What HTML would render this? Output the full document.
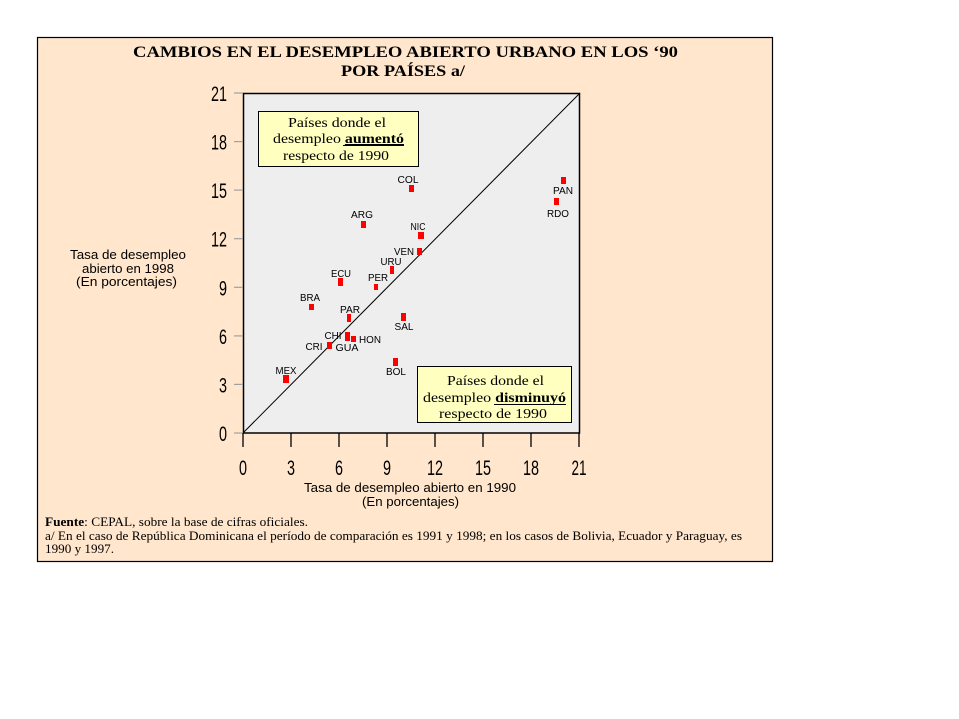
<!DOCTYPE html>
<html><head><meta charset="utf-8"><style>
html,body{margin:0;padding:0;background:#fff;}
svg{display:block;}
</style></head><body>
<svg width="959" height="719" viewBox="0 0 959 719" xmlns="http://www.w3.org/2000/svg">
<rect x="0" y="0" width="959" height="719" fill="#ffffff"/>
<rect x="37.5" y="37.5" width="735" height="524" fill="#FFE6CC" stroke="#000" stroke-width="1.2"/>
<!-- title -->
<g font-family="'Liberation Serif', serif" font-weight="bold" font-size="16" fill="#000">
<text x="133" y="57" textLength="545" lengthAdjust="spacingAndGlyphs">CAMBIOS EN EL DESEMPLEO ABIERTO URBANO EN LOS ‘90</text>
<text x="341" y="76" textLength="124" lengthAdjust="spacingAndGlyphs">POR PAÍSES a/</text>
</g>
<!-- plot area -->
<rect x="243.5" y="93.5" width="336" height="339.5" fill="#EEEEEE" stroke="#000" stroke-width="1.5"/>
<line x1="243" y1="433" x2="580" y2="93" stroke="#000" stroke-width="1"/>
<!-- y ticks -->
<g stroke="#A0A0A0" stroke-width="1.2">
<line x1="234" y1="93" x2="243" y2="93"/>
<line x1="234" y1="141.6" x2="243" y2="141.6"/>
<line x1="234" y1="190.1" x2="243" y2="190.1"/>
<line x1="234" y1="238.7" x2="243" y2="238.7"/>
<line x1="234" y1="287.3" x2="243" y2="287.3"/>
<line x1="234" y1="335.9" x2="243" y2="335.9"/>
<line x1="234" y1="384.4" x2="243" y2="384.4"/>
<line x1="234" y1="433" x2="243" y2="433"/>
</g>
<!-- x ticks -->
<g stroke="#000" stroke-width="1.3">
<line x1="243" y1="433" x2="243" y2="447"/>
<line x1="291" y1="433" x2="291" y2="447"/>
<line x1="339" y1="433" x2="339" y2="447"/>
<line x1="387" y1="433" x2="387" y2="447"/>
<line x1="435" y1="433" x2="435" y2="447"/>
<line x1="483" y1="433" x2="483" y2="447"/>
<line x1="531" y1="433" x2="531" y2="447"/>
<line x1="579" y1="433" x2="579" y2="447"/>
</g>
<!-- y tick labels -->
<g font-family="'Liberation Sans', sans-serif" font-size="21" fill="#000" text-anchor="end">
<text x="227" y="101" textLength="16" lengthAdjust="spacingAndGlyphs">21</text>
<text x="227" y="149.6" textLength="16" lengthAdjust="spacingAndGlyphs">18</text>
<text x="227" y="198.1" textLength="16" lengthAdjust="spacingAndGlyphs">15</text>
<text x="227" y="246.7" textLength="16" lengthAdjust="spacingAndGlyphs">12</text>
<text x="227" y="295.3" textLength="8" lengthAdjust="spacingAndGlyphs">9</text>
<text x="227" y="343.9" textLength="8" lengthAdjust="spacingAndGlyphs">6</text>
<text x="227" y="392.4" textLength="8" lengthAdjust="spacingAndGlyphs">3</text>
<text x="227" y="441" textLength="8" lengthAdjust="spacingAndGlyphs">0</text>
</g>
<!-- x tick labels -->
<g font-family="'Liberation Sans', sans-serif" font-size="21" fill="#000" text-anchor="middle">
<text x="243" y="475" textLength="8" lengthAdjust="spacingAndGlyphs">0</text>
<text x="291" y="475" textLength="8" lengthAdjust="spacingAndGlyphs">3</text>
<text x="339" y="475" textLength="8" lengthAdjust="spacingAndGlyphs">6</text>
<text x="387" y="475" textLength="8" lengthAdjust="spacingAndGlyphs">9</text>
<text x="435" y="475" textLength="16" lengthAdjust="spacingAndGlyphs">12</text>
<text x="483" y="475" textLength="16" lengthAdjust="spacingAndGlyphs">15</text>
<text x="531" y="475" textLength="16" lengthAdjust="spacingAndGlyphs">18</text>
<text x="579" y="475" textLength="15" lengthAdjust="spacingAndGlyphs">21</text>
</g>
<!-- axis titles -->
<g font-family="'Liberation Sans', sans-serif" font-size="12.5" fill="#000">
<text x="70" y="259" textLength="116" lengthAdjust="spacingAndGlyphs">Tasa de desempleo</text>
<text x="82" y="273" textLength="92" lengthAdjust="spacingAndGlyphs">abierto en 1998</text>
<text x="76" y="286" textLength="101" lengthAdjust="spacingAndGlyphs">(En porcentajes)</text>
<text x="304" y="492" textLength="212" lengthAdjust="spacingAndGlyphs">Tasa de desempleo abierto en 1990</text>
<text x="362" y="506" textLength="97" lengthAdjust="spacingAndGlyphs">(En porcentajes)</text>
</g>
<!-- boxes -->
<rect x="258.5" y="111.5" width="160" height="55" fill="#FFFFC0" stroke="#000" stroke-width="1"/>
<g font-family="'Liberation Serif', serif" font-size="14" fill="#000">
<text x="288" y="127" textLength="98" lengthAdjust="spacingAndGlyphs">Países donde el</text>
<text x="273" y="143" textLength="131" lengthAdjust="spacingAndGlyphs">desempleo <tspan font-weight="bold" text-decoration="underline">aumentó</tspan></text>
<text x="283" y="160" textLength="106" lengthAdjust="spacingAndGlyphs">respecto de 1990</text>
</g>
<line x1="343" y1="145.5" x2="404" y2="145.5" stroke="#000" stroke-width="1"/>
<rect x="417.5" y="366.5" width="154" height="56" fill="#FFFFC0" stroke="#000" stroke-width="1"/>
<g font-family="'Liberation Serif', serif" font-size="14" fill="#000">
<text x="447" y="385" textLength="97" lengthAdjust="spacingAndGlyphs">Países donde el</text>
<text x="423" y="402" textLength="143" lengthAdjust="spacingAndGlyphs">desempleo <tspan font-weight="bold">disminuyó</tspan></text>
<text x="439" y="418" textLength="108" lengthAdjust="spacingAndGlyphs">respecto de 1990</text>
</g>
<line x1="494" y1="404.5" x2="566" y2="404.5" stroke="#000" stroke-width="1"/>
<!-- data points -->
<g fill="#FF0000">
<rect x="361" y="221" width="5" height="7"/>
<rect x="418" y="232" width="6" height="7"/>
<rect x="417" y="248" width="5" height="7"/>
<rect x="390" y="266" width="4" height="8"/>
<rect x="338" y="278" width="5" height="8"/>
<rect x="374" y="284" width="4" height="6"/>
<rect x="309" y="304" width="5" height="6"/>
<rect x="347" y="314" width="4" height="8"/>
<rect x="401" y="313" width="5" height="8"/>
<rect x="345" y="332" width="5" height="9"/>
<rect x="351" y="336" width="5" height="6"/>
<rect x="327" y="342" width="5" height="7"/>
<rect x="393" y="358" width="5" height="8"/>
<rect x="283" y="375" width="6" height="8"/>
<rect x="409" y="185" width="5" height="7"/>
<rect x="561" y="177" width="5" height="7"/>
<rect x="554" y="198" width="5" height="7"/>
</g>
<g font-family="'Liberation Sans', sans-serif" font-size="10" fill="#000" text-anchor="middle">
<text x="362" y="218" textLength="22" lengthAdjust="spacingAndGlyphs">ARG</text>
<text x="418" y="230" textLength="15" lengthAdjust="spacingAndGlyphs">NIC</text>
<text x="404" y="255" textLength="20" lengthAdjust="spacingAndGlyphs">VEN</text>
<text x="391" y="265" textLength="21" lengthAdjust="spacingAndGlyphs">URU</text>
<text x="341" y="277" textLength="20" lengthAdjust="spacingAndGlyphs">ECU</text>
<text x="378" y="281" textLength="20" lengthAdjust="spacingAndGlyphs">PER</text>
<text x="310" y="301" textLength="20" lengthAdjust="spacingAndGlyphs">BRA</text>
<text x="350" y="313" textLength="20" lengthAdjust="spacingAndGlyphs">PAR</text>
<text x="404" y="330" textLength="19" lengthAdjust="spacingAndGlyphs">SAL</text>
<text x="333" y="339" textLength="17" lengthAdjust="spacingAndGlyphs">CHI</text>
<text x="370" y="343" textLength="22" lengthAdjust="spacingAndGlyphs">HON</text>
<text x="314" y="350" textLength="17" lengthAdjust="spacingAndGlyphs">CRI</text>
<text x="347" y="351" textLength="23" lengthAdjust="spacingAndGlyphs">GUA</text>
<text x="396" y="375" textLength="20" lengthAdjust="spacingAndGlyphs">BOL</text>
<text x="286" y="374" textLength="21" lengthAdjust="spacingAndGlyphs">MEX</text>
<text x="408" y="183" textLength="21" lengthAdjust="spacingAndGlyphs">COL</text>
<text x="563" y="194" textLength="20" lengthAdjust="spacingAndGlyphs">PAN</text>
<text x="558" y="217" textLength="22" lengthAdjust="spacingAndGlyphs">RDO</text>
</g>
<!-- footer -->
<g font-family="'Liberation Serif', serif" font-size="12.5" fill="#000">
<text x="45" y="526" textLength="263" lengthAdjust="spacingAndGlyphs"><tspan font-weight="bold">Fuente</tspan>: CEPAL, sobre la base de cifras oficiales.</text>
<text x="45" y="540" textLength="697" lengthAdjust="spacingAndGlyphs">a/ En el caso de República Dominicana el período de comparación es 1991 y 1998; en los casos de Bolivia, Ecuador y Paraguay, es</text>
<text x="45" y="553" textLength="69" lengthAdjust="spacingAndGlyphs">1990 y 1997.</text>
</g>
</svg>
</body></html>
